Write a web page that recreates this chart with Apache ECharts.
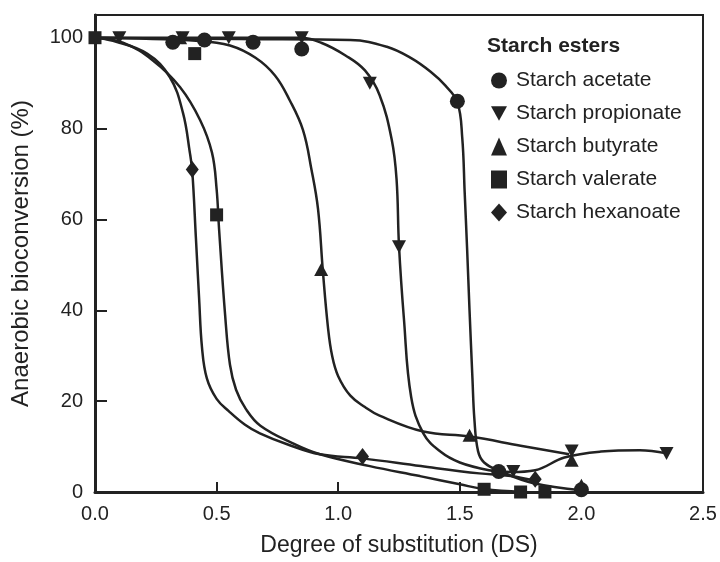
<!DOCTYPE html>
<html>
<head>
<meta charset="utf-8">
<script src="https://cdn.jsdelivr.net/npm/echarts@6/dist/echarts.min.js"></script>
<style>html,body{margin:0;padding:0;background:#fff}#c{width:720px;height:562px}</style>
</head>
<body>
<div id="c"></div>
<script>
// Legend / series names
const seriesNames = ["Starch acetate", "Starch propionate", "Starch butyrate", "Starch valerate", "Starch hexanoate"];
const legendTitle = "Starch esters";
const xTicks = [0, 0.5, 1.0, 1.5, 2.0, 2.5];
const yTicks = [0, 20, 40, 60, 80, 100];

// Measured points [DS, %]
const acetatePts = [[0.32,99],[0.45,99.5],[0.65,99],[0.85,97.5],[1.49,86],[1.66,4.5],[2.0,0.5]];
const propionatePts = [[0.1,100],[0.36,100],[0.55,100],[0.85,100],[1.13,90],[1.25,54],[1.72,4.5],[1.96,9],[2.35,8.5]];
const butyratePts = [[0.35,100],[0.93,49],[1.54,12.5],[1.96,7],[2.0,1.5]];
const valeratePts = [[0,100],[0.41,96.5],[0.5,61],[1.6,0.6],[1.75,0],[1.85,0]];
const hexanoatePts = [[0.4,71],[1.1,7.8],[1.81,2.8]];

// Fitted curves [DS, %]
const acetateCurve = [[0,100],[0.6,99.7],[1.05,99.5],[1.2,98],[1.3,95.5],[1.38,92.5],[1.44,89.5],[1.49,85.8],[1.51,78],[1.52,66],[1.53,53.6],[1.54,40],[1.552,25],[1.56,16],[1.575,9],[1.6,6.5],[1.665,4.6],[1.8,2],[2.0,0.4]];
const propionateCurve = [[0,100],[0.84,100],[0.93,98.9],[1.03,96.1],[1.11,92.8],[1.17,87.4],[1.22,77.6],[1.24,68.8],[1.25,54.2],[1.27,38.3],[1.30,20.9],[1.35,12.9],[1.42,8.9],[1.50,6.5],[1.62,4.8],[1.71,4.4],[1.81,4.8],[1.93,7.6],[2.08,8.9],[2.24,9.2],[2.35,8.5]];
const butyrateCurve = [[0,100],[0.43,99.3],[0.555,98.3],[0.66,95.6],[0.74,91.7],[0.80,86.3],[0.855,79.7],[0.89,71],[0.917,62.3],[0.937,48.6],[0.958,36.2],[0.975,30],[1.0,25.5],[1.05,21.2],[1.11,18.7],[1.17,16.8],[1.35,13.3],[1.54,12.2],[1.75,10.2],[1.95,8.3]];
const valerateCurve = [[0,100],[0.115,98.9],[0.238,95],[0.35,89.1],[0.432,81.9],[0.481,74.7],[0.50,66.7],[0.51,58],[0.535,39],[0.555,28],[0.58,22.5],[0.62,18.3],[0.68,14.6],[0.814,10.7],[0.925,8.3],[1.13,5.7],[1.336,3.5],[1.50,1.7],[1.60,0.65],[1.756,0]];
const hexanoateCurve = [[0,100],[0.074,99.3],[0.214,96.5],[0.308,91.3],[0.362,83.4],[0.39,74.7],[0.4,70.6],[0.415,55.8],[0.428,42.7],[0.44,31.8],[0.46,25],[0.5,20.5],[0.55,17.8],[0.617,14.8],[0.678,12.9],[0.79,10.5],[0.925,8.3],[1.10,7.4],[1.34,5.7],[1.58,4.1],[1.71,3.5],[1.81,2.4]];

const ink = '#222';
const font = 'Liberation Sans, Arial, Helvetica, sans-serif';
const downTri = 'path://M0,0 L10,0 L5,9 Z';
const symbols = ['circle', downTri, 'triangle', 'rect', 'diamond'];
const symSizes = [15, [14,13], [14,13], 13, [13,17]];
const pts = [acetatePts, propionatePts, butyratePts, valeratePts, hexanoatePts];
const curves = [acetateCurve, propionateCurve, butyrateCurve, valerateCurve, hexanoateCurve];

const series = [];
curves.forEach((c, i) => {
  series.push({
    name: seriesNames[i] + ' fit', type: 'line', data: c, smooth: 0.4,
    showSymbol: false, symbol: 'none', lineStyle: {color: ink, width: 2.5}, z: 2, silent: true
  });
});
[2, 1, 3, 4, 0].forEach(i => {
  series.push({
    name: seriesNames[i], type: 'scatter', data: pts[i], symbol: symbols[i], symbolSize: symSizes[i],
    itemStyle: {color: ink, opacity: 1}, z: 5
  });
});

const chart = echarts.init(document.getElementById('c'), null, {renderer: 'canvas'});
chart.setOption({
  animation: false,
  backgroundColor: '#fff',
  title: {text: legendTitle, left: 482, top: 31, textStyle: {fontFamily: font, fontSize: 21, fontWeight: 'bold', color: ink}},
  legend: {
    data: seriesNames.map((n, i) => ({name: n, icon: symbols[i]})),
    orient: 'vertical', left: 486, top: 65, itemGap: 12, itemWidth: 16, itemHeight: 18,
    textStyle: {fontFamily: font, fontSize: 21, color: ink, padding: [0,0,0,4]},
    selectedMode: false
  },
  grid: {left: 95, right: 17, top: 15, bottom: 66, show: true, borderColor: ink, borderWidth: 2},
  xAxis: {
    type: 'value', min: 0, max: 2.5, interval: 0.5,
    name: 'Degree of substitution (DS)', nameLocation: 'middle', nameGap: 42,
    nameTextStyle: {fontFamily: font, fontSize: 23, color: ink},
    axisLine: {lineStyle: {color: ink, width: 3}},
    axisTick: {inside: true, length: 10, lineStyle: {color: ink, width: 2}},
    axisLabel: {margin: 12, fontFamily: font, fontSize: 20, color: ink, formatter: v => v.toFixed(1)},
    splitLine: {show: false}
  },
  yAxis: {
    type: 'value', min: 0, max: 105, interval: 20,
    name: 'Anaerobic bioconversion (%)', nameLocation: 'middle', nameGap: 62,
    nameTextStyle: {fontFamily: font, fontSize: 24, color: ink},
    axisLine: {lineStyle: {color: ink, width: 3}},
    axisTick: {inside: true, length: 12, lineStyle: {color: ink, width: 2}},
    axisLabel: {margin: 12, fontFamily: font, fontSize: 20, color: ink, showMaxLabel: false,
      formatter: v => (yTicks.indexOf(v) >= 0 ? String(v) : '')},
    splitLine: {show: false}
  },
  series: series
});
</script>
</body>
</html>
